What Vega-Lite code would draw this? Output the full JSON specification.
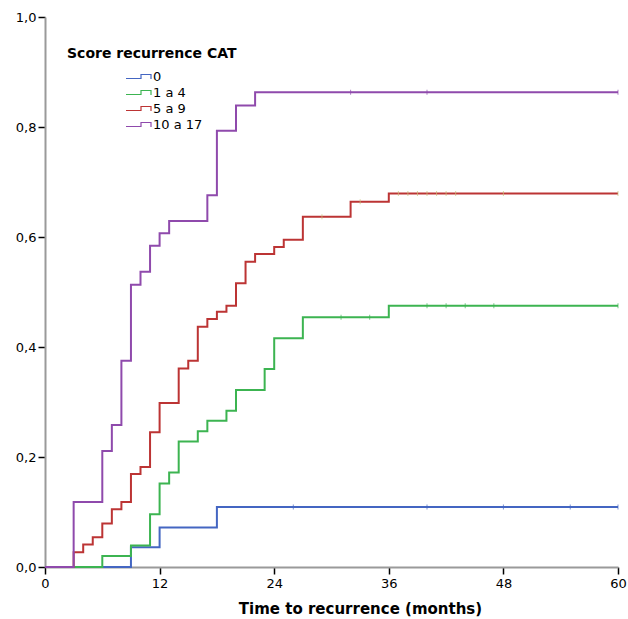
{
  "$schema": "https://vega.github.io/schema/vega-lite/v6.json",
  "width": 573,
  "height": 550,
  "autosize": "none",
  "padding": {"left": 45, "top": 17, "right": 10, "bottom": 52},
  "background": "white",
  "config": {
    "font": "DejaVu Sans",
    "view": {"stroke": null},
    "axis": {
      "grid": false,
      "domainColor": "#9a9a9a",
      "domainWidth": 2,
      "tickColor": "#000000",
      "tickWidth": 1.5,
      "tickSize": 7,
      "labelColor": "#000000",
      "labelFontSize": 13,
      "labelFont": "DejaVu Sans",
      "labelPadding": 2,
      "labelFlush": false
    }
  },
  "datasets": {
    "curves": [
      {"group": "0", "time": 0, "value": 0},
      {"group": "0", "time": 9, "value": 0.036},
      {"group": "0", "time": 12, "value": 0.072},
      {"group": "0", "time": 18, "value": 0.109},
      {"group": "0", "time": 60, "value": 0.109},
      {"group": "1 a 4", "time": 0, "value": 0},
      {"group": "1 a 4", "time": 6, "value": 0.02},
      {"group": "1 a 4", "time": 9, "value": 0.039},
      {"group": "1 a 4", "time": 11, "value": 0.096},
      {"group": "1 a 4", "time": 12, "value": 0.152},
      {"group": "1 a 4", "time": 13, "value": 0.172},
      {"group": "1 a 4", "time": 14, "value": 0.228},
      {"group": "1 a 4", "time": 16, "value": 0.247},
      {"group": "1 a 4", "time": 17, "value": 0.266},
      {"group": "1 a 4", "time": 19, "value": 0.284},
      {"group": "1 a 4", "time": 20, "value": 0.322},
      {"group": "1 a 4", "time": 23, "value": 0.36},
      {"group": "1 a 4", "time": 24, "value": 0.416},
      {"group": "1 a 4", "time": 27, "value": 0.454},
      {"group": "1 a 4", "time": 36, "value": 0.475},
      {"group": "1 a 4", "time": 60, "value": 0.475},
      {"group": "5 a 9", "time": 0, "value": 0},
      {"group": "5 a 9", "time": 3, "value": 0.027},
      {"group": "5 a 9", "time": 4, "value": 0.041},
      {"group": "5 a 9", "time": 5, "value": 0.054},
      {"group": "5 a 9", "time": 6, "value": 0.079},
      {"group": "5 a 9", "time": 7, "value": 0.105},
      {"group": "5 a 9", "time": 8, "value": 0.118},
      {"group": "5 a 9", "time": 9, "value": 0.169},
      {"group": "5 a 9", "time": 10, "value": 0.182},
      {"group": "5 a 9", "time": 11, "value": 0.245},
      {"group": "5 a 9", "time": 12, "value": 0.298},
      {"group": "5 a 9", "time": 14, "value": 0.361},
      {"group": "5 a 9", "time": 15, "value": 0.375},
      {"group": "5 a 9", "time": 16, "value": 0.437},
      {"group": "5 a 9", "time": 17, "value": 0.451},
      {"group": "5 a 9", "time": 18, "value": 0.464},
      {"group": "5 a 9", "time": 19, "value": 0.475},
      {"group": "5 a 9", "time": 20, "value": 0.516},
      {"group": "5 a 9", "time": 21, "value": 0.555},
      {"group": "5 a 9", "time": 22, "value": 0.569},
      {"group": "5 a 9", "time": 24, "value": 0.582},
      {"group": "5 a 9", "time": 25, "value": 0.595},
      {"group": "5 a 9", "time": 27, "value": 0.637},
      {"group": "5 a 9", "time": 32, "value": 0.664},
      {"group": "5 a 9", "time": 36, "value": 0.679},
      {"group": "5 a 9", "time": 60, "value": 0.679},
      {"group": "10 a 17", "time": 0, "value": 0},
      {"group": "10 a 17", "time": 3, "value": 0.118},
      {"group": "10 a 17", "time": 6, "value": 0.211},
      {"group": "10 a 17", "time": 7, "value": 0.258},
      {"group": "10 a 17", "time": 8, "value": 0.375},
      {"group": "10 a 17", "time": 9, "value": 0.513},
      {"group": "10 a 17", "time": 10, "value": 0.537},
      {"group": "10 a 17", "time": 11, "value": 0.584},
      {"group": "10 a 17", "time": 12, "value": 0.607},
      {"group": "10 a 17", "time": 13, "value": 0.629},
      {"group": "10 a 17", "time": 17, "value": 0.676},
      {"group": "10 a 17", "time": 18, "value": 0.793},
      {"group": "10 a 17", "time": 20, "value": 0.839},
      {"group": "10 a 17", "time": 22, "value": 0.863},
      {"group": "10 a 17", "time": 60, "value": 0.863}
    ],
    "censor": [
      {"group": "0", "time": 26, "value": 0.109},
      {"group": "0", "time": 40, "value": 0.109},
      {"group": "0", "time": 48, "value": 0.109},
      {"group": "0", "time": 55, "value": 0.109},
      {"group": "0", "time": 60, "value": 0.109},
      {"group": "1 a 4", "time": 31, "value": 0.454},
      {"group": "1 a 4", "time": 34, "value": 0.454},
      {"group": "1 a 4", "time": 40, "value": 0.475},
      {"group": "1 a 4", "time": 42, "value": 0.475},
      {"group": "1 a 4", "time": 44, "value": 0.475},
      {"group": "1 a 4", "time": 47, "value": 0.475},
      {"group": "1 a 4", "time": 60, "value": 0.475},
      {"group": "5 a 9", "time": 29, "value": 0.637},
      {"group": "5 a 9", "time": 33, "value": 0.664},
      {"group": "5 a 9", "time": 37, "value": 0.679},
      {"group": "5 a 9", "time": 38, "value": 0.679},
      {"group": "5 a 9", "time": 39, "value": 0.679},
      {"group": "5 a 9", "time": 40, "value": 0.679},
      {"group": "5 a 9", "time": 41, "value": 0.679},
      {"group": "5 a 9", "time": 42, "value": 0.679},
      {"group": "5 a 9", "time": 43, "value": 0.679},
      {"group": "5 a 9", "time": 48, "value": 0.679},
      {"group": "5 a 9", "time": 60, "value": 0.679},
      {"group": "10 a 17", "time": 32, "value": 0.863},
      {"group": "10 a 17", "time": 40, "value": 0.863},
      {"group": "10 a 17", "time": 60, "value": 0.863}
    ]
  },
  "layer": [
    {
      "data": {"name": "curves"},
      "mark": {"type": "line", "interpolate": "step-after", "strokeWidth": 2},
      "encoding": {
        "x": {
          "field": "time",
          "type": "quantitative",
          "scale": {"domain": [0, 60], "nice": false, "zero": true},
          "axis": {
            "values": [0, 12, 24, 36, 48, 60],
            "title": "Time to recurrence (months)",
            "titleFont": "DejaVu Sans",
            "titleFontSize": 15,
            "titleFontWeight": "bold",
            "titleColor": "#000000",
            "titlePadding": 11,
            "titleX": 315,
            "labelPadding": 3
          }
        },
        "y": {
          "field": "value",
          "type": "quantitative",
          "scale": {"domain": [0, 1], "nice": false},
          "axis": {
            "values": [0, 0.2, 0.4, 0.6, 0.8, 1.0],
            "title": null,
            "labelExpr": "replace(format(datum.value, '.1f'), '.', ',')"
          }
        },
        "color": {
          "field": "group",
          "type": "nominal",
          "sort": ["0", "1 a 4", "5 a 9", "10 a 17"],
          "scale": {
            "domain": ["0", "1 a 4", "5 a 9", "10 a 17"],
            "range": ["#4466c2", "#3cb451", "#bc3434", "#8f4aac"]
          },
          "legend": {
            "orient": "none",
            "legendX": 22,
            "legendY": 30,
            "title": "Score recurrence CAT",
            "titleFont": "DejaVu Sans",
            "titleFontSize": 14,
            "titleFontWeight": "bold",
            "titleColor": "#000000",
            "titlePadding": 9,
            "symbolType": "M-2.5,0.4H0.5V-0.4H2.5V0.5V-0.4H0.5V0.4H-2.5Z",
            "symbolSize": 100,
            "symbolStrokeWidth": 1.2,
            "symbolFillColor": "transparent",
            "symbolOffset": 65,
            "labelFont": "DejaVu Sans",
            "labelFontSize": 13,
            "labelColor": "#000000",
            "labelOffset": 8,
            "rowPadding": 2
          }
        }
      }
    },
    {
      "data": {"name": "censor"},
      "mark": {"type": "tick", "orient": "vertical", "size": 5, "thickness": 1},
      "encoding": {
        "x": {"field": "time", "type": "quantitative"},
        "y": {"field": "value", "type": "quantitative"},
        "color": {
          "field": "group",
          "type": "nominal",
          "legend": null,
          "condition": {"test": "datum.group === '5 a 9'", "value": "#c9c27a"}
        }
      }
    }
  ]
}
